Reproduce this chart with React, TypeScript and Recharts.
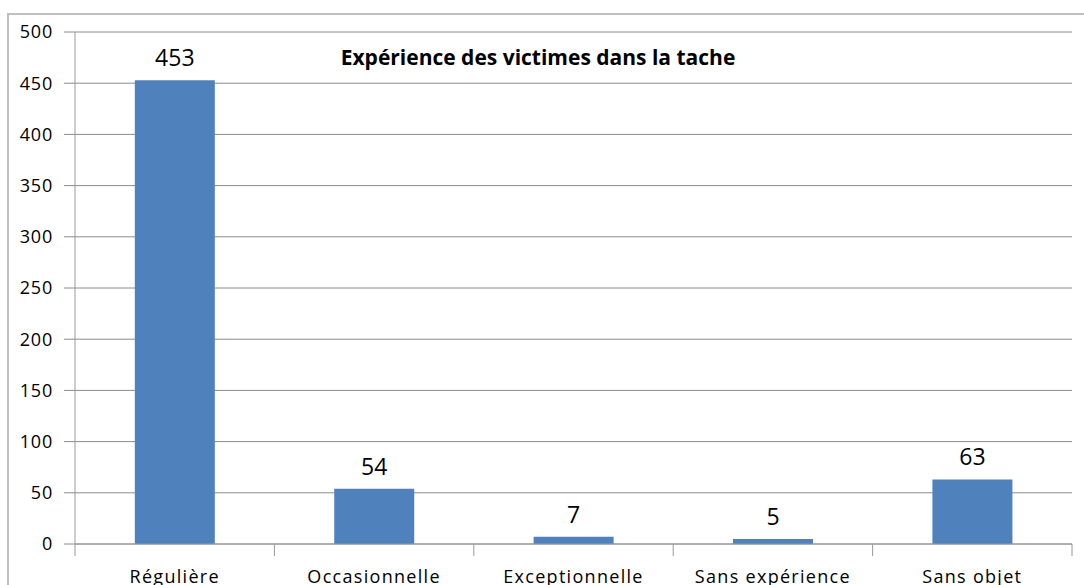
import { BarChart, Bar, XAxis, YAxis, CartesianGrid, LabelList } from "recharts"

const categories = ["Régulière", "Occasionnelle", "Exceptionnelle", "Sans expérience", "Sans objet"]
const victimes = [453, 54, 7, 5, 63]
const yTicks = [0, 50, 100, 150, 200, 250, 300, 350, 400, 450, 500]

const data = categories.map((name, i) => ({ name, value: victimes[i] }))

const W = 1084
const H = 585
const LEFT = 75
const RIGHT = 12
const band = (W - LEFT - RIGHT) / categories.length
const font = "'Open Sans', sans-serif"

// category label plus boundary tick marks like the original
const XTick = (props: any) => {
  const { x, y, payload, index } = props
  const last = index === categories.length - 1
  return (
    <g>
      <line x1={x - band / 2} x2={x - band / 2} y1={y - 8} y2={y + 4} stroke="#9a9a9a" />
      {last && <line x1={x + band / 2} x2={x + band / 2} y1={y - 8} y2={y + 4} stroke="#9a9a9a" />}
      <text x={x} y={y + 31} textAnchor="middle" fontSize={18} letterSpacing={1.3} fill="#000" fontFamily={font}>
        {payload.value}
      </text>
    </g>
  )
}

export default function App() {
  return (
    <div style={{ position: "absolute", left: 0, top: 0, width: W, height: H, overflow: "hidden", background: "#fff" }}>
      <div
        style={{
          position: "absolute",
          left: 7,
          top: 13,
          width: W + 20,
          height: H + 20,
          border: "2px solid #c0c0c0",
        }}
      />
      <div
        style={{
          position: "absolute",
          left: 0,
          width: W - 8,
          top: 43,
          textAlign: "center",
          fontFamily: font,
          fontWeight: 700,
          fontSize: 21,
        }}
      >
        Expérience des victimes dans la tache
      </div>
      <div style={{ position: "absolute", left: 0, top: 0 }}>
        <BarChart width={W} height={H} data={data} margin={{ top: 32, right: RIGHT, bottom: 0, left: 0 }} barCategoryGap="30%">
          <CartesianGrid vertical={false} stroke="#8c8c8c" />
          <XAxis
            dataKey="name"
            height={41}
            axisLine={{ stroke: "#9a9a9a" }}
            tickLine={false}
            tick={<XTick />}
            interval={0}
          />
          <YAxis
            width={LEFT}
            domain={[0, 500]}
            ticks={yTicks}
            tickSize={11}
            tickMargin={11}
            axisLine={{ stroke: "#9a9a9a" }}
            tickLine={{ stroke: "#8c8c8c" }}
            tick={{ fill: "#000", fontSize: 18, fontFamily: font, letterSpacing: 0.8 }}
          />
          <Bar dataKey="value" fill="#4f81bd" isAnimationActive={false}>
            <LabelList dataKey="value" position="top" offset={14} fill="#000" fontSize={23} fontFamily={font} />
          </Bar>
        </BarChart>
      </div>
    </div>
  )
}
